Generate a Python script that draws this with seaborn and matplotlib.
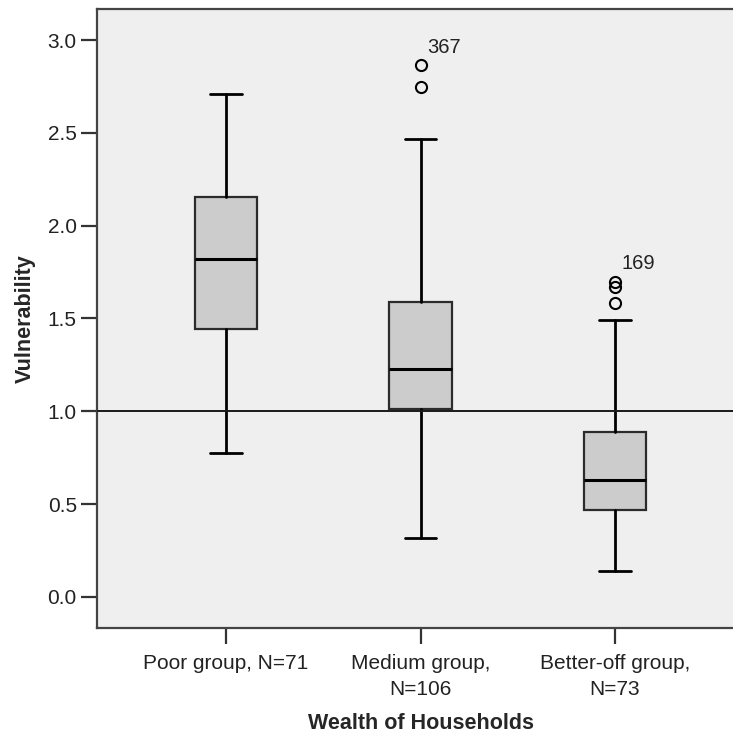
import matplotlib
matplotlib.use("Agg")
import matplotlib.pyplot as plt
import seaborn as sns

# ---- data ----
categories = ["Poor group, N=71", "Medium group,\nN=106", "Better-off group,\nN=73"]
whisker_low = [0.774, 0.316, 0.142]
q1 = [1.443, 1.013, 0.469]
median = [1.820, 1.226, 0.630]
q3 = [2.156, 1.590, 0.887]
whisker_high = [2.711, 2.467, 1.492]
outliers = [[], [2.865, 2.745], [1.698, 1.671, 1.582]]
outlier_labels = ["", "367", "169"]
reference_value = 1.0
y_ticks = [0.0, 0.5, 1.0, 1.5, 2.0, 2.5, 3.0]

sns.set_style("white")
plt.rcParams["font.family"] = ["Liberation Sans", "DejaVu Sans"]

fig = plt.figure(figsize=(7.33, 7.34), dpi=100)
W, H = 733, 734
ax = fig.add_axes([97 / W, 1 - 628 / H, (744 - 97) / W, (628 - 9) / H])
ax.set_facecolor("#efefef")

stats = []
for i, cat in enumerate(categories):
    stats.append(dict(label=cat, whislo=whisker_low[i], q1=q1[i], med=median[i],
                      q3=q3[i], whishi=whisker_high[i], fliers=outliers[i]))

positions = list(range(len(categories)))
ax.bxp(stats, positions=positions, widths=0.322, capwidths=0.16,
       showfliers=True, patch_artist=True,
       boxprops=dict(facecolor="#cccccc", edgecolor="#2b2b2b", linewidth=1.6),
       medianprops=dict(color="black", linewidth=2.2),
       whiskerprops=dict(color="black", linewidth=2.0),
       capprops=dict(color="black", linewidth=2.0),
       flierprops=dict(marker="o", markerfacecolor="none", markeredgecolor="black",
                       markersize=8, markeredgewidth=1.5, linestyle="none"))

ax.axhline(reference_value, color="#1a1a1a", linewidth=1.4, zorder=3)

for i, lab in enumerate(outlier_labels):
    if lab and outliers[i]:
        top = max(outliers[i])
        ax.annotate(lab, xy=(positions[i], top), xytext=(5, 6),
                    textcoords="offset points", fontsize=14.5, color="#222222",
                    ha="left", va="bottom")

ax.set_xlim(-0.663, 2.663)
ax.set_ylim(-0.167, 3.167)
ax.set_yticks(y_ticks)
ax.set_yticklabels([f"{v:.1f}" for v in y_ticks])
ax.set_xticks(positions)
ax.set_xticklabels(categories)

ax.tick_params(axis="both", which="major", length=11.5, width=1.6, color="#333333",
               labelsize=15, labelcolor="#222222", pad=3, direction="out",
               bottom=True, left=True, top=False, right=False)
ax.tick_params(axis="x", pad=7.5)
for lbl in ax.get_xticklabels():
    lbl.set_linespacing(1.45)

for side in ["left", "bottom", "top", "right"]:
    ax.spines[side].set_color("#444444")
    ax.spines[side].set_linewidth(1.6)
ax.spines["right"].set_visible(False)

ax.set_ylabel("Vulnerability", fontsize=15.5, fontweight="bold", labelpad=8)
ax.set_xlabel("Wealth of Households", fontsize=15.5, fontweight="bold", labelpad=10)
ax.yaxis.set_label_coords(-(97 - 36) / (744 - 97), 0.5)

fig.savefig("out.png", dpi=100, facecolor="white")
